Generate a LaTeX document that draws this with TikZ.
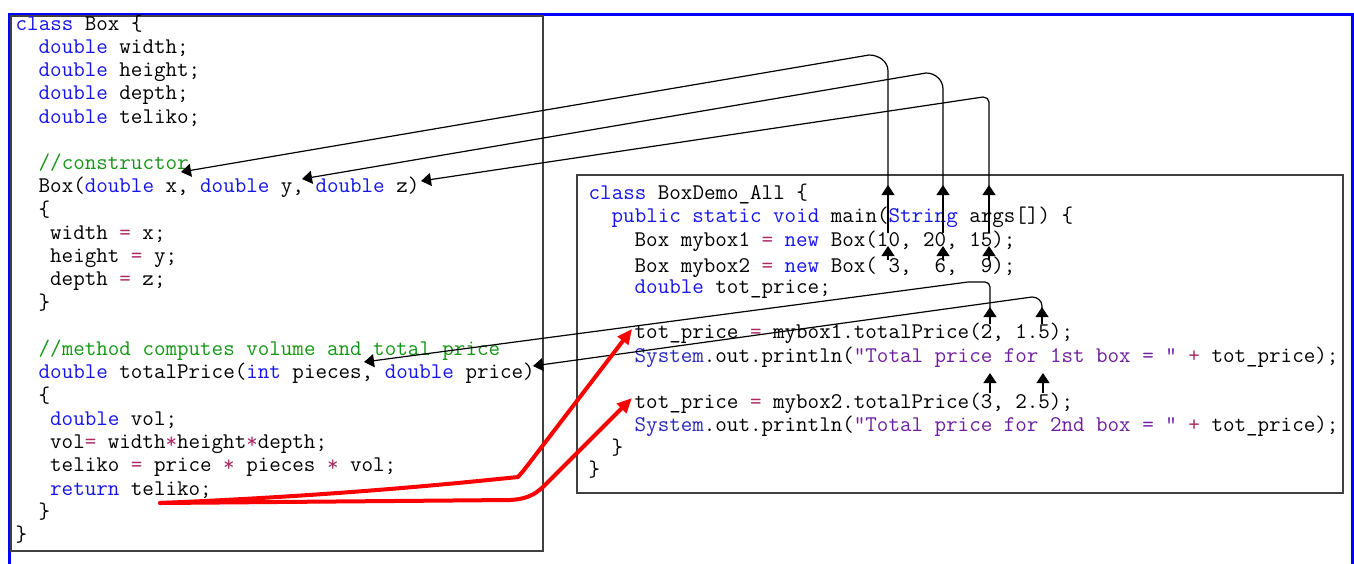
\documentclass[tikz,border=0pt]{standalone}
\usepackage{fontspec}
\usetikzlibrary{arrows.meta}
\definecolor{kwblue}{RGB}{20,20,235}
\definecolor{cmgreen}{RGB}{20,150,20}
\definecolor{opmaroon}{RGB}{170,40,100}
\definecolor{strpurple}{RGB}{110,30,160}
\definecolor{sysblue}{RGB}{40,40,190}
\definecolor{frameblue}{RGB}{0,0,255}
\definecolor{redline}{RGB}{250,0,0}
\newcommand\kwd[1]{\textcolor{kwblue}{#1}}
\newcommand\cmt[1]{\textcolor{cmgreen}{#1}}
\newcommand\opr[1]{\textcolor{opmaroon}{#1}}
\newcommand\strg[1]{\textcolor{strpurple}{#1}}
\newcommand\sysb[1]{\textcolor{sysblue}{#1}}
\tikzset{
  code/.style={anchor=base west, inner sep=0pt, font=\ttfamily\fontsize{22.4}{24}\selectfont},
  conn/.style={draw=black, line width=1.2pt},
  arr/.style={-{Triangle[length=10pt,width=13pt]}},
  redarr/.style={draw=redline, line width=4pt, line cap=round, line join=round,
                 -{Triangle[length=15pt,width=13pt]}},
  codebox/.style={draw=black!75, line width=1.6pt}
}
\begin{document}
\begin{tikzpicture}[x=1pt,y=-1pt]
\useasboundingbox (0,0) rectangle (1354,563);
\fill[white] (0,0) rectangle (1354,563);
% blue frame
\draw[frameblue, line width=3pt] (9,570) -- (9,14) -- (1352,14) -- (1352,570);
% code boxes
\draw[codebox] (11,16) rectangle (543,551);
\draw[codebox] (577,175) rectangle (1343,493);

% left code
\node[code] (L0)  at (15.5,30)    {\kwd{class} Box \{};
\node[code] (L1)  at (38.5,53.25) {\kwd{double} width;};
\node[code] (L2)  at (38.5,76.5)  {\kwd{double} height;};
\node[code] (L3)  at (38.5,99.75) {\kwd{double} depth;};
\node[code] (L4)  at (38.5,123)   {\kwd{double} teliko;};
\node[code] (L6)  at (38.5,169.5) {\cmt{//constructor}};
\node[code] (L7)  at (38.5,192.75){Box(\kwd{double} x, \kwd{double} y, \kwd{double} z)};
\node[code] (L8)  at (38.5,216)   {\{};
\node[code] (L9)  at (50,239.25)  {width \opr{=} x;};
\node[code] (L10) at (50,262.5)   {height \opr{=} y;};
\node[code] (L11) at (50,285.75)  {depth \opr{=} z;};
\node[code] (L12) at (38.5,309)   {\}};
\node[code] (L14) at (38.5,355.5) {\cmt{//method computes volume and total price}};
\node[code] (L15) at (38.5,378.75){\kwd{double} totalPrice(\kwd{int} pieces, \kwd{double} price)};
\node[code] (L16) at (38.5,402)   {\{};
\node[code] (L17) at (50,425.25)  {\kwd{double} vol;};
\node[code] (L18) at (50,448.5)   {vol\opr{=} width\opr{*}height\opr{*}depth;};
\node[code] (L19) at (50,471.75)  {teliko \opr{=} price \opr{*} pieces \opr{*} vol;};
\node[code] (L20) at (50,495)     {\kwd{return} teliko;};
\node[code] (L21) at (38.5,518.25){\}};
\node[code] (L22) at (15.5,541.5) {\}};

% right code
\node[code] (R0)  at (588.5,199) {\kwd{class} BoxDemo\_All \{};
\node[code] (R1)  at (611.5,222) {\kwd{public} \kwd{static} \kwd{void} main(\kwd{String} args[]) \{};
\node[code] (R2)  at (634.5,246) {Box mybox1 \opr{=} \kwd{new} Box(10, 20, 15);};
\node[code] (R3)  at (634.5,272) {Box mybox2 \opr{=} \kwd{new} Box(~3,~~6,~~9);};
\node[code] (R4)  at (634.5,293) {\kwd{double} tot\_price;};
\node[code] (R5)  at (634.5,338) {tot\_price \opr{=} mybox1.totalPrice(2, 1.5);};
\node[code] (R6)  at (634.5,362) {\sysb{System}.out.println(\strg{"Total price for 1st box = "} \opr{+} tot\_price);};
\node[code] (R7)  at (634.5,408) {tot\_price \opr{=} mybox2.totalPrice(3, 2.5);};
\node[code] (R8)  at (634.5,431) {\sysb{System}.out.println(\strg{"Total price for 2nd box = "} \opr{+} tot\_price);};
\node[code] (R9)  at (611.5,454) {\}};
\node[code] (R10) at (588.5,476) {\}};

% connector points
\coordinate (p1s) at (888,233); \coordinate (p1m) at (888,185);
\coordinate (p1c) at (888,71);  \coordinate (p1h) at (869,55);  \coordinate (p1e) at (181,172);
\coordinate (p2s) at (943,233); \coordinate (p2m) at (943,185);
\coordinate (p2c) at (943,89);  \coordinate (p2h) at (926,73);  \coordinate (p2e) at (302,179);
\coordinate (p3s) at (989,233); \coordinate (p3m) at (989,185);
\coordinate (p3c) at (989,102); \coordinate (p3h) at (983,97);  \coordinate (p3e) at (421,181);
\coordinate (b1s) at (888,260); \coordinate (b1e) at (888,246);
\coordinate (b2s) at (943,260); \coordinate (b2e) at (943,246);
\coordinate (b3s) at (989,260); \coordinate (b3e) at (989,246);
\coordinate (q1s) at (990,324); \coordinate (q1m) at (990,307);
\coordinate (q1c) at (990,287); \coordinate (q1h) at (985,282); \coordinate (q1k) at (968,282);
\coordinate (q1e) at (364,362);
\coordinate (q2s) at (1042,324); \coordinate (q2m) at (1042,307);
\coordinate (q2c) at (1042,306); \coordinate (q2h) at (1032,297); \coordinate (q2e) at (533,366);
\coordinate (c1s) at (990,393); \coordinate (c1e) at (990,373);
\coordinate (c2s) at (1043,393); \coordinate (c2e) at (1043,373);

% constructor argument connectors
\draw[conn, arr] (p1s) -- (p1c) to[out=90,in=0] (p1h) -- (p1e);
\draw[conn, arr] (p1s) -- (p1m);
\draw[conn, arr] (p2s) -- (p2c) to[out=90,in=0] (p2h) -- (p2e);
\draw[conn, arr] (p2s) -- (p2m);
\draw[conn, arr] (p3s) -- (p3c) to[out=90,in=0] (p3h) -- (p3e);
\draw[conn, arr] (p3s) -- (p3m);
\draw[conn, arr] (b1s) -- (b1e);
\draw[conn, arr] (b2s) -- (b2e);
\draw[conn, arr] (b3s) -- (b3e);

% method argument connectors
\draw[conn, arr] (q1s) -- (q1c) to[out=90,in=0] (q1h) -- (q1k) -- (q1e);
\draw[conn, arr] (q1s) -- (q1m);
\draw[conn, arr] (q2s) -- (q2c) to[out=90,in=0] (q2h) -- (q2e);
\draw[conn, arr] (q2s) -- (q2m);
\draw[conn, arr] (c1s) -- (c1e);
\draw[conn, arr] (c2s) -- (c2e);

% red return arrows
\coordinate (rs) at (160,503);
\coordinate (r1a) at (518,477); \coordinate (r1b) at (524,470); \coordinate (r1e) at (632,329);
\coordinate (r2a) at (510,500); \coordinate (r2b) at (546,484); \coordinate (r2e) at (632,398);
\draw[redarr] (rs) .. controls (330,496) and (450,484) .. (r1a) -- (r1b) -- (r1e);
\draw[redarr] (rs) -- (r2a) .. controls (530,499) and (538,492) .. (r2b) -- (r2e);
\end{tikzpicture}
\end{document}
